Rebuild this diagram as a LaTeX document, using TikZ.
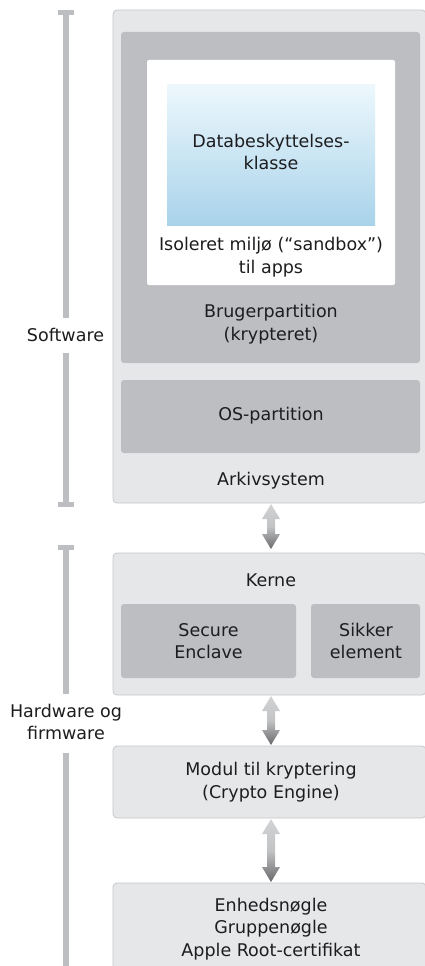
\documentclass[tikz,border=0pt]{standalone}
\usepackage{fontspec}
\setmainfont{DejaVu Sans}
\usetikzlibrary{shadings}
\definecolor{boxfill}{HTML}{E6E7E9}
\definecolor{boxline}{HTML}{C6C7C9}
\definecolor{darkfill}{HTML}{BDBEC1}
\definecolor{barcol}{HTML}{BDBEC1}
\definecolor{txt}{HTML}{1D1D1F}
\definecolor{bluetop}{HTML}{EDF8FD}
\definecolor{bluebot}{HTML}{A9D3EA}
\definecolor{arrtop}{HTML}{D2D3D5}
\definecolor{arrmid}{HTML}{C2C3C5}
\definecolor{arrbot}{HTML}{69696B}
\tikzset{
  x=1pt, y=-1pt,
  outerbox/.style={fill=boxfill, draw=boxline, line width=0.8pt, rounded corners=4pt},
  innerbox/.style={fill=darkfill, rounded corners=3pt},
  whitebox/.style={fill=white, rounded corners=2pt},
  bluebox/.style={top color=bluetop, bottom color=bluebot},
  lbl/.style={text=txt, align=center, font=\fontsize{17.5}{22.5}\selectfont, inner sep=0pt},
  bar/.style={fill=barcol},
  dblarrow/.style={top color=arrtop, bottom color=arrbot, middle color=arrmid, draw=none}
}
\newcommand{\dblarr}[3]{% x, ytop, ybot
  \path[dblarrow] (#1,#2) -- (#1+9,#2+15) -- (#1+4,#2+15) -- (#1+4,#3-15) -- (#1+9,#3-15) -- (#1,#3)
    -- (#1-9,#3-15) -- (#1-4,#3-15) -- (#1-4,#2+15) -- (#1-9,#2+15) -- cycle;}
\begin{document}
\begin{tikzpicture}
\useasboundingbox (0,0) rectangle (425,966);
% ---- software stack
\draw[outerbox] (113,10) rectangle (426,503);
\fill[innerbox] (121,32) rectangle (420,363);
\fill[whitebox] (147,60) rectangle (395,285);
\fill[bluebox] (167,84) rectangle (375,225);
\node[lbl] (db) at (271,152) {Databeskyttelses-\\klasse};
\node[lbl] (sand) at (271,257) {Isoleret miljø (“sandbox”)\\til apps};
\node[lbl] (bruger) at (271,324) {Brugerpartition\\(krypteret)};
\fill[innerbox] (121,380) rectangle (420,453);
\node[lbl] (os) at (271,416) {OS-partition};
\node[lbl] (ark) at (271,481) {Arkivsystem};
% ---- kerne
\draw[outerbox] (113,553) rectangle (426,695);
\node[lbl] (kerne) at (271,580) {Kerne};
\fill[innerbox] (121,604) rectangle (296,678);
\node[lbl] (se) at (208.5,641) {Secure\\Enclave};
\fill[innerbox] (311,604) rectangle (420,678);
\node[lbl] (sik) at (366,641) {Sikker\\element};
% ---- crypto engine
\draw[outerbox] (113,746) rectangle (426,818);
\node[lbl] (modul) at (271,782) {Modul til kryptering\\(Crypto Engine)};
% ---- keys
\draw[outerbox] (113,883) rectangle (426,980);
\node[lbl] (keys) at (271,929) {Enhedsnøgle\\Gruppenøgle\\Apple Root-certifikat};
% ---- arrows
\dblarr{271}{504}{549}
\dblarr{271}{696}{745}
\dblarr{271}{819}{882}
% ---- brackets
\fill[bar] (58,10) rectangle (74,15);
\fill[bar] (63,10) rectangle (69,318);
\fill[bar] (63,353) rectangle (69,507);
\fill[bar] (58,502) rectangle (74,507);
\node[lbl] (sw) at (65.5,335) {Software};
\fill[bar] (58,545) rectangle (74,550);
\fill[bar] (63,545) rectangle (69,694);
\fill[bar] (63,753) rectangle (69,966);
\node[lbl] (hw) at (66,722) {Hardware og\\firmware};
\end{tikzpicture}
\end{document}
